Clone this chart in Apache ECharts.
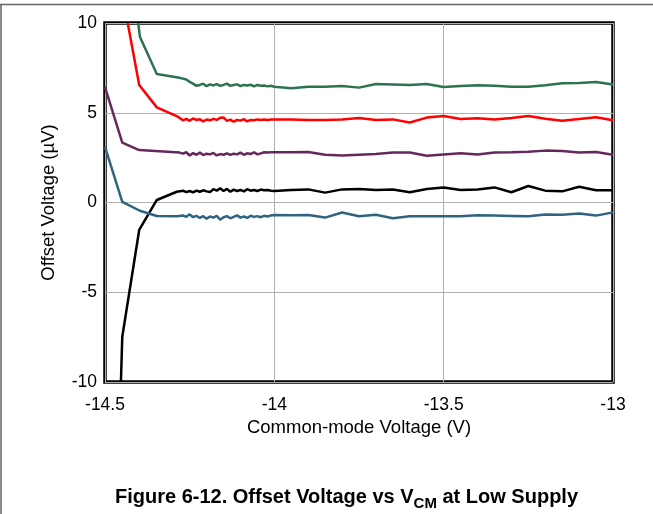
<!DOCTYPE html>
<html>
<head>
<meta charset="utf-8">
<script src="https://cdn.jsdelivr.net/npm/echarts@6/dist/echarts.min.js"></script>
<style>
html,body{margin:0;padding:0;background:#fff;}
#chart{width:653px;height:514px;}
</style>
</head>
<body>
<div id="chart"></div>
<script>
// Shared x grid for the smooth region (-14.00 .. -13.00, step 0.05)
var xTail = [-14.00,-13.95,-13.90,-13.85,-13.80,-13.75,-13.70,-13.65,-13.60,-13.55,-13.50,-13.45,-13.40,-13.35,-13.30,-13.25,-13.20,-13.15,-13.10,-13.05,-13.00];
// Dense x grid for the noisy region (-14.27 .. -14.01)
var xNoise = [-14.27,-14.26,-14.25,-14.24,-14.23,-14.22,-14.21,-14.20,-14.19,-14.18,-14.17,-14.16,-14.15,-14.14,-14.13,-14.12,-14.11,-14.10,-14.09,-14.08,-14.07,-14.06,-14.05,-14.04,-14.03,-14.02,-14.01];

// Green
var greenHeadX = [-14.402,-14.397,-14.347,-14.28];
var greenHeadY = [10.0, 9.24, 7.16, 6.95];
var greenNoise = [6.90,6.85,6.72,6.62,6.50,6.55,6.62,6.48,6.58,6.52,6.60,6.50,6.55,6.62,6.50,6.55,6.58,6.48,6.55,6.52,6.56,6.47,6.55,6.50,6.52,6.47,6.50];
var greenTail = [6.45,6.36,6.45,6.45,6.49,6.40,6.60,6.58,6.55,6.60,6.43,6.49,6.53,6.51,6.45,6.45,6.53,6.64,6.66,6.71,6.58];

// Red
var redHeadX = [-14.433,-14.399,-14.347,-14.285];
var redHeadY = [10.0, 6.55, 5.30, 4.78];
var redNoise = [4.58,4.66,4.55,4.68,4.60,4.64,4.52,4.62,4.58,4.66,4.60,4.72,4.74,4.55,4.62,4.50,4.60,4.56,4.64,4.52,4.60,4.58,4.63,4.60,4.62,4.60,4.63];
var redTail = [4.63,4.63,4.60,4.60,4.63,4.71,4.60,4.63,4.46,4.73,4.82,4.65,4.69,4.63,4.71,4.82,4.67,4.56,4.65,4.75,4.58];

// Purple
var purpleHeadX = [-14.5,-14.449,-14.399,-14.28];
var purpleHeadY = [6.43, 3.33, 2.92, 2.78];
var purpleNoise = [2.72,2.80,2.62,2.75,2.66,2.78,2.64,2.72,2.68,2.76,2.62,2.70,2.66,2.74,2.65,2.72,2.68,2.78,2.66,2.74,2.70,2.80,2.68,2.74,2.80,2.78,2.80];
var purpleTail = [2.80,2.80,2.81,2.66,2.62,2.66,2.70,2.78,2.78,2.61,2.68,2.74,2.68,2.78,2.80,2.83,2.89,2.87,2.78,2.81,2.66];

// Black
var blackHeadX = [-14.453,-14.449,-14.399,-14.347,-14.288];
var blackHeadY = [-10.0, -7.48, -1.53, 0.14, 0.60];
var blackNoise = [0.66,0.58,0.64,0.56,0.66,0.60,0.68,0.62,0.58,0.74,0.66,0.80,0.64,0.76,0.60,0.72,0.64,0.70,0.62,0.74,0.66,0.70,0.64,0.72,0.68,0.70,0.66];
var blackTail = [0.64,0.70,0.73,0.55,0.73,0.75,0.70,0.72,0.57,0.75,0.84,0.70,0.73,0.84,0.57,0.92,0.66,0.62,0.88,0.68,0.68];

// Blue
var blueHeadX = [-14.5,-14.449,-14.397,-14.347,-14.288];
var blueHeadY = [3.10, 0.04, -0.46, -0.75, -0.77];
var blueNoise = [-0.72,-0.80,-0.66,-0.82,-0.74,-0.86,-0.76,-0.90,-0.78,-0.84,-0.74,-0.96,-0.82,-0.76,-0.88,-0.80,-0.72,-0.84,-0.78,-0.86,-0.74,-0.80,-0.76,-0.82,-0.74,-0.78,-0.72];
var blueTail = [-0.70,-0.71,-0.70,-0.84,-0.56,-0.77,-0.68,-0.88,-0.77,-0.77,-0.77,-0.77,-0.71,-0.73,-0.75,-0.77,-0.67,-0.68,-0.61,-0.73,-0.55];

var xTicks = ['-14.5','-14','-13.5','-13'];

function build(hx, hy, ny, ty) {
  var d = [];
  for (var i = 0; i < hx.length; i++) d.push([hx[i], hy[i]]);
  for (var j = 0; j < xNoise.length; j++) d.push([xNoise[j], ny[j]]);
  for (var k = 0; k < xTail.length; k++) d.push([xTail[k], ty[k]]);
  return d;
}

var FONT = '"Liberation Sans", Arial, sans-serif';
function mkSeries(data, color) {
  return {type: 'line', data: data, symbol: 'none', smooth: false, clip: true,
    lineStyle: {color: color, width: 2.5}, animation: false};
}

var chart = echarts.init(document.getElementById('chart'), null, {renderer: 'canvas'});
chart.setOption({
  animation: false,
  backgroundColor: '#ffffff',
  grid: {left: 105, right: 40, top: 23, bottom: 132, show: true, borderColor: '#000', borderWidth: 3.5, backgroundColor: 'transparent'},
  xAxis: {
    type: 'value', min: -14.5, max: -13, interval: 0.5,
    name: 'Common-mode Voltage (V)', nameLocation: 'middle', nameGap: 33,
    nameTextStyle: {color: '#000', fontSize: 18.5, fontFamily: FONT},
    axisLine: {show: false}, axisTick: {show: false},
    axisLabel: {color: '#000', fontSize: 17.5, fontFamily: FONT, margin: 14,
      formatter: function (v) { var i = Math.round((v + 14.5) / 0.5); return xTicks[i] !== undefined ? xTicks[i] : ''; }},
    splitLine: {show: true, lineStyle: {color: '#b0b0b0', width: 1}}
  },
  yAxis: {
    type: 'value', min: -10, max: 10, interval: 5,
    name: 'Offset Voltage (µV)', nameLocation: 'middle', nameGap: 47,
    nameTextStyle: {color: '#000', fontSize: 18.5, fontFamily: FONT},
    axisLine: {show: false}, axisTick: {show: false},
    axisLabel: {color: '#000', fontSize: 17.5, fontFamily: FONT, margin: 8},
    splitLine: {show: true, lineStyle: {color: '#b0b0b0', width: 1}}
  },
  series: [
    mkSeries(build(greenHeadX, greenHeadY, greenNoise, greenTail), '#2d7350'),
    mkSeries(build(redHeadX, redHeadY, redNoise, redTail), '#ff0000'),
    mkSeries(build(purpleHeadX, purpleHeadY, purpleNoise, purpleTail), '#66285c'),
    mkSeries(build(blackHeadX, blackHeadY, blackNoise, blackTail), '#000000'),
    mkSeries(build(blueHeadX, blueHeadY, blueNoise, blueTail), '#2e6480')
  ],
  graphic: [
    {type: 'line', shape: {x1: 0, y1: 4.5, x2: 653, y2: 4.5}, style: {stroke: '#666', lineWidth: 1.5}, silent: true},
    {type: 'line', shape: {x1: 1, y1: 4.5, x2: 1, y2: 514}, style: {stroke: '#666', lineWidth: 1.5}, silent: true},
    {type: 'text', left: 115, top: 483,
      style: {
        text: '{b|Figure 6-12. Offset Voltage vs V}{s|CM}{b| at Low Supply}',
        rich: {
          b: {fontSize: 20, fontWeight: 'bold', fontFamily: FONT, fill: '#000', verticalAlign: 'middle', lineHeight: 24},
          s: {fontSize: 15, fontWeight: 'bold', fontFamily: FONT, fill: '#000', verticalAlign: 'middle', lineHeight: 24, padding: [13, 0, 0, 0]}
        }
      }
    }
  ]
});
</script>
</body>
</html>
